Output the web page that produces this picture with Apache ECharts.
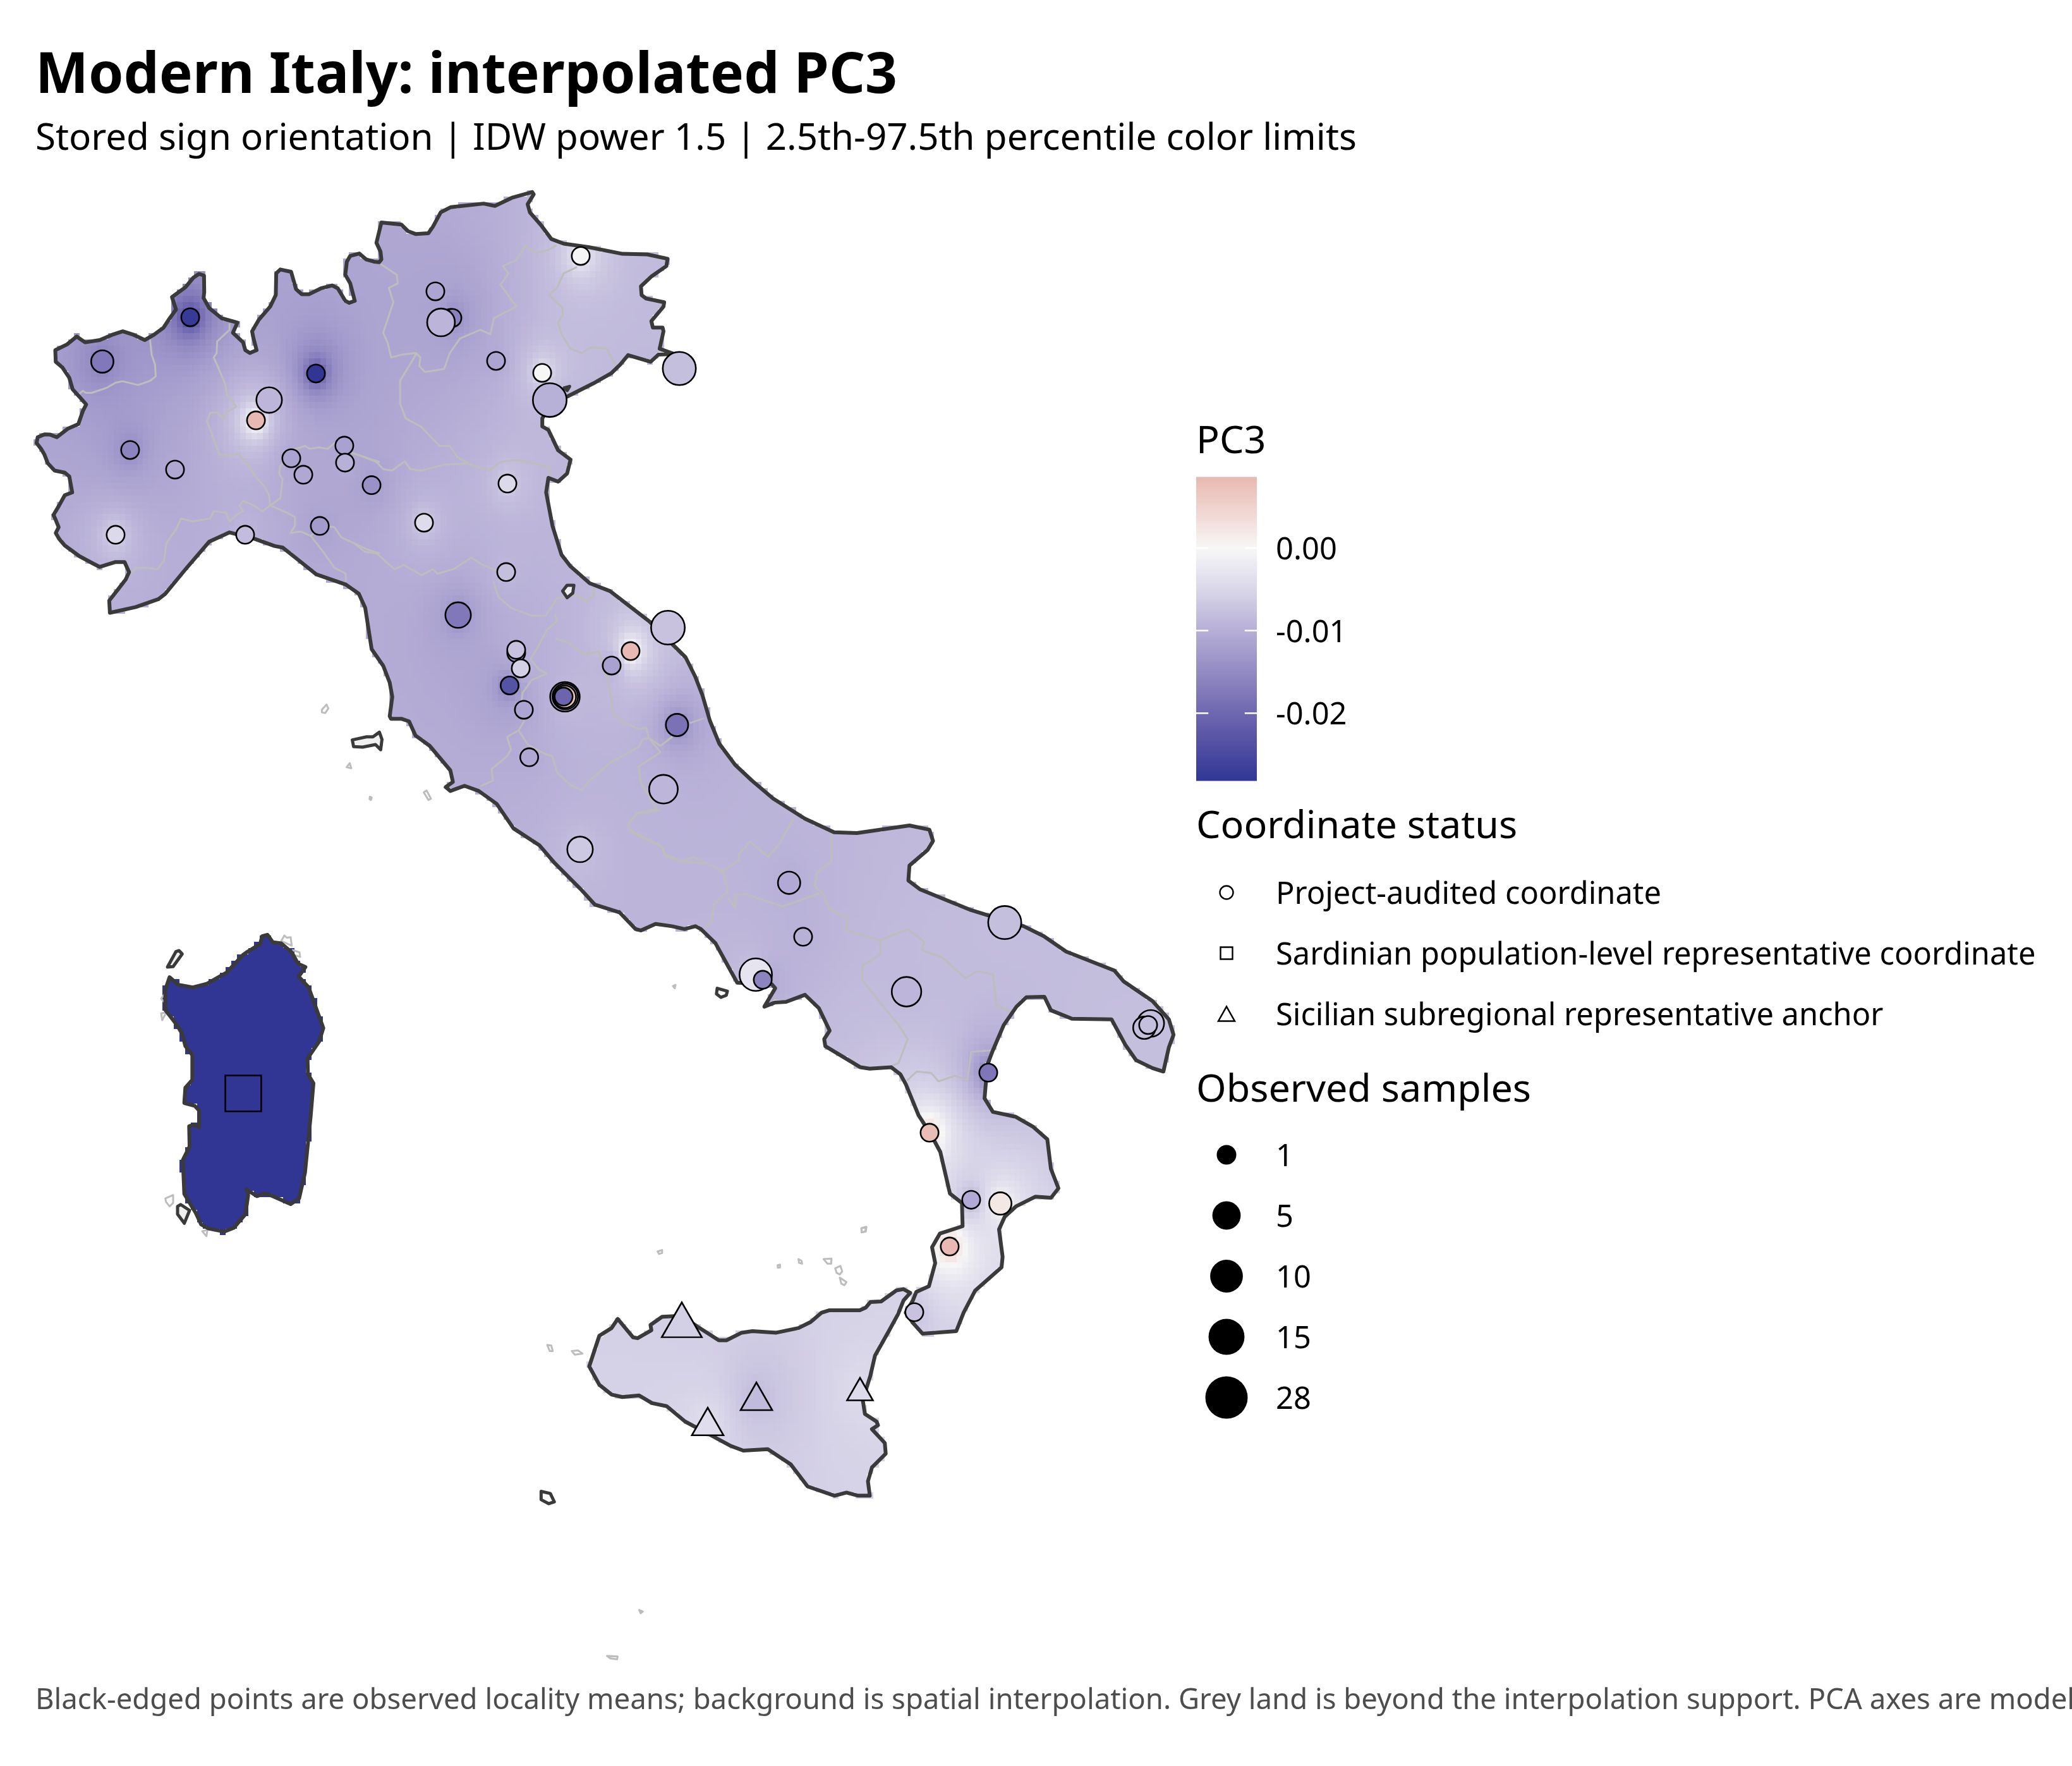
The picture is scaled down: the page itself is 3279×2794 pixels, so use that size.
<!DOCTYPE html>
<html><head><meta charset="utf-8">
<style>html,body{margin:0;padding:0;background:#fff}#c{width:3279px;height:2794px}</style>
<script src="https://cdn.jsdelivr.net/npm/echarts@6/dist/echarts.min.js"></script>
</head><body><div id="c"></div>
<script>
// ---------- observed locality means (lon, lat, PC3, samples) ----------
const auditedLon=[7.331,8.251,9.567,9.077,8.939,7.622,8.092,9.309,9.435,9.864,9.871,10.149,9.607,8.826,7.470,10.817,10.976,10.995,10.876,12.338,11.452,11.935,12.014,13.370,11.571,10.698,11.558,11.055,13.251,11.663,11.663,11.710,11.594,11.743,12.173,12.176,12.172,12.159,12.860,12.662,13.346,11.799,13.204,12.331,14.519,14.666,14.170,14.243,15.748,16.776,18.304,18.237,18.277,16.604,15.989,16.425,16.730,16.200,15.830];
const auditedLat=[45.726,46.081,45.630,45.417,45.254,45.016,44.859,44.950,44.818,45.051,44.915,44.734,44.407,44.336,44.336,46.289,46.076,46.076,46.040,46.573,45.731,45.635,45.417,45.670,44.747,44.433,44.037,43.692,43.591,43.388,43.413,43.264,43.127,42.932,43.036,43.038,43.036,43.038,43.403,43.287,42.810,42.551,42.295,41.812,41.544,41.111,40.807,40.766,40.670,41.225,40.416,40.381,40.403,40.021,39.539,39.001,38.971,38.626,38.099];
const auditedPC3=[-0.0176,-0.0274,-0.0281,-0.0090,0.0085,-0.0159,-0.0108,-0.0117,-0.0108,-0.0118,-0.0098,-0.0139,-0.0127,-0.0082,-0.0046,-0.0112,-0.0160,-0.0160,-0.0092,-0.0003,-0.0114,-0.0002,-0.0098,-0.0079,-0.0046,-0.0042,-0.0079,-0.0176,-0.0075,-0.0130,-0.0075,-0.0059,-0.0234,-0.0114,-0.0100,-0.0100,0.0070,-0.0204,0.0085,-0.0118,-0.0184,-0.0108,-0.0090,-0.0066,-0.0105,-0.0098,-0.0029,-0.0159,-0.0090,-0.0079,-0.0079,-0.0079,-0.0079,-0.0179,0.0080,-0.0105,0.0020,0.0085,-0.0075];
const auditedN=[2,1,1,4,1,1,1,1,1,1,1,1,1,1,1,1,1,1,6,1,1,1,14,13,1,1,1,4,14,1,1,1,1,1,8,4,2,1,1,1,2,1,7,4,2,1,12,1,8,13,5,2,1,1,1,1,2,1,1];
const sicilyLon=[13.396,14.177,13.667,15.261];
const sicilyLat=[38.038,37.424,37.222,37.482];
const sicilyPC3=[-0.0059,-0.0084,-0.0039,-0.0044];
const sicilyN=[7,2,2,1];
const sardiniaLon=[8.806];
const sardiniaLat=[39.854];
const sardiniaPC3=[-0.0281];
const sardiniaN=[28];

// ---------- colour scale ----------
const scaleMin=-0.02816, scaleMax=0.00857;
const stopValues=[-0.02816,-0.02,-0.01,-0.0046,0,0.0036,0.00857];
const stopColors=['#313695','#6f67af','#b6aed6','#dcd9ea','#f7f7f7','#f2dcd8','#e8b9b2'];
const colourTicks=[-0.02,-0.01,0];

// ---------- legends ----------
const statusLabels=['Project-audited coordinate','Sardinian population-level representative coordinate','Sicilian subregional representative anchor'];
const sampleBreaks=[1,5,10,15,28];

const frameA=[40,290,2.8,2.178], frameB=[560,290,2.8,2.178], frameC=[480,880,2.45,2.45], frameD=[980,1260,1.742,2.24], frameE=[200,1430,3,2.8], frameF=[820,1900,2.063,2.063], frameG=[1040,1040,3,3], frameH=[1400,1880,3,3];
const coastWestAlps=[375,1480,372,1438,410,1400,445,1365,460,1340,440,1305,400,1305,330,1322,300,1310,240,1285,175,1248,150,1225,135,1205,148,1185,135,1160,125,1143,150,1110,175,1075,208,1065,195,1010,175,997,130,990,100,965,85,935,70,915,50,895,55,875,85,865,110,866,140,875,190,845,235,830,255,785,270,762,245,740,210,710,195,670,165,635,135,615,133,575,185,555,228,528,265,548,330,540,385,522,432,510,480,522,530,540,570,522,612,498,640,465,668,435,650,392,710,358,745,325,770,312,792,318,793,375,790,395,815,430,870,465,940,480,920,515,965,548,975,575,995,585,1025,575,1010,530,1005,510,1035,470,1085,425,1110,385,1112,310,1130,297,1178,305,1200,365,1225,382,1258,382,1310,362,1360,352,1385,362,1418,405,1435,412,1460,405,1440,345,1418,315,1425,270,1440,250,1480,242,1510,262,1545,270];
const coastNorthEast=[112,272,122,262,118,235,100,205,122,135,210,142,240,165,275,175,330,172,350,150,385,100,430,82,575,70,625,78,700,50,790,30,797,38,770,72,780,100,830,145,875,192,930,208,1040,220,1190,243,1300,245,1390,260,1385,285,1320,320,1272,355,1275,385,1295,397,1375,410,1372,425,1318,475,1325,497,1368,497,1372,510,1355,570,1420,588,1350,590,1315,615,1215,592,1180,625,1140,655,1060,690,945,735,867,770,835,810,835,838,862,850,905,920,960,952,945,1000,905,1028,862,1015,852,1065,880,1180,920,1280,960,1320,1045,1378,1135,1405,1310,1510];
const coastMarche=[135,0,180,90,215,180,250,300,295,410,370,510,450,585,550,670,700,765,840,830];
const coastPuglia=[655,130,800,103,855,118,865,158,850,190,800,245,797,298,830,330,970,403,1063,440,1115,460,1170,495,1232,550,1365,617,1390,655,1470,725,1515,790,1528,845,1515,890,1500,975,1470,963,1425,935,1395,880,1357,790,1248,788,1190,758,1172,710,1122,712,1095,745,1060,810,1030,900,1015,950,1007,1070,1030,1118,1092,1135,1140,1170,1180,1215,1190,1320];
const coastToe=[825,0,790,45,715,40,625,85,570,135,543,195,560,325,555,375,430,485,375,590,340,678,180,690,135,640,100,590,135,530,150,492,210,465,240,355,225,280,262,215,370,180,367,70,310,25];
const coastTyrrhenian=[885,1260,860,1200,825,1130,790,1020,775,985,750,960,690,965,665,960,568,885,565,860,580,830,550,750,512,703,460,728,430,730,400,745,430,680,420,665,325,660,310,625,265,520,225,470,210,460,180,470,145,460,100,452,60,475,45,470,0,410];
const coastLazioTuscany=[1225,1380,1130,1350,1075,1290,975,1190,915,1120,815,1055,750,960,680,910,625,890,570,910,552,895,580,875,570,830,490,735,435,695,410,640,380,630,340,630,335,620,345,545,335,490,310,425,265,360,240,200,215,145,165,110,50,70,0,30];
const coastLiguria=[1140,1255,1105,1250,1015,1225,905,1203,815,1235,710,1330,620,1415,590,1433,490,1460];
const sicilyCoast=[325,385,375,445,390,448,435,422,432,405,470,378,534,375,585,410,655,455,680,455,730,430,765,425,843,430,915,415,955,395,990,365,1015,357,1115,357,1135,348,1150,330,1185,328,1235,292,1258,288,1280,300,1258,325,1240,370,1210,425,1165,505,1150,570,1125,650,1132,695,1170,720,1175,732,1155,745,1197,790,1200,825,1155,870,1142,915,1148,962,1110,962,1072,952,1033,962,945,932,890,860,815,810,735,815,695,800,630,765,545,720,485,670,437,660,395,635,340,640,305,632,265,600,232,540,265,440,305,415];
const sardiniaCoast=[205,325,245,358,315,370,380,355,475,305,555,225,575,212,635,178,645,143,670,137,695,170,735,175,785,215,815,265,850,280,818,322,865,370,935,550,915,610,860,685,862,755,888,795,875,940,848,1190,820,1305,780,1330,695,1295,660,1283,620,1295,570,1265,578,1290,565,1375,510,1435,465,1452,390,1438,355,1420,330,1370,275,1285,268,1135,300,1075,298,985,320,978,345,990,345,915,325,895,275,882,280,815,313,780,313,670,280,630,265,575,235,530,185,470,185,380];
// islands with a dark outline: [frame, fill, trace]
const darkIslands=[
 [frameE,'#eeeeee',[195,280,235,212,250,207,265,222,222,278]],
 [frameE,'#eeeeee',[243,1340,258,1332,300,1358,275,1415,243,1375]],
 [frameC,'#f0f0f0',[190,712,245,700,270,700,295,682,305,710,300,750,280,730,230,740,195,738]],
 [frameD,'#ffffff',[270,680,298,690,295,705,280,712,268,700]],
 [frameB,'#f0f0f0',[925,1405,945,1385,975,1385,970,1412,945,1428]],
 [frameB,'#3a3a3a',[932,705,956,700,945,714]],
 [frameF,'#ffffff',[75,948,105,955,118,982,100,988,75,975]]
];
const greyIslands=[
 [frameF,[95,470,108,472,113,490,103,490]],[frameF,[175,490,195,488,210,498,185,502]],[frameF,[455,165,470,160,470,170,460,173]],
 [frameF,[847,210,855,208,855,217,848,218]],[frameF,[915,190,925,195,927,205,917,202]],[frameF,[997,190,1023,188,1022,205,1010,205]],
 [frameF,[1035,220,1052,212,1058,230,1050,240,1040,235]],[frameF,[1050,250,1072,265,1065,275,1055,270]],[frameF,[1120,90,1137,85,1135,100,1122,102]],
 [frameF,[395,1335,407,1340,400,1346]],[frameF,[290,1485,325,1487,323,1496,300,1493]],
 [frameC,[72,595,90,575,97,590,85,608,72,605]],[frameC,[168,818,180,802,186,822]],[frameC,[258,932,265,935,262,945,257,942]],[frameC,[467,915,478,908,495,940,485,945]],
 [frameD,[148,672,155,668,153,680]],[frameD,[668,1530,680,1525,678,1542,668,1545]],
 [frameE,[735,165,750,140,762,150,780,148,785,185]],[frameE,[790,205,822,215,825,235,790,225]],[frameE,[185,1305,222,1290,222,1325,205,1340,188,1320]],
 [frameE,[165,420,185,395,185,440]],[frameE,[165,485,190,480,170,515]],[frameE,[360,1450,385,1445,380,1472]]
];
const regionLines=[
 [frameA,[553,540,560,590,575,625,578,665,555,680,500,695,430,682,400,687,360,705,295,722,268,722,255,715,240,725]],
 [frameA,[905,485,905,505,850,545,848,585,835,600,855,635,885,690,895,730,935,770,890,790,880,812,850,790,820,790,805,820,825,860,860,935,910,938,950,930,955,945,985,965,1020,1010,1060,1045,1080,1075,1085,1110,1050,1130,1000,1105,965,1095,950,1110,965,1130,940,1140,905,1165,890,1135,835,1130,820,1155,740,1165,690,1155,670,1190,625,1240,615,1300,585,1330,545,1325,490,1325,475,1338]],
 [frameA,[1085,1110,1130,1085,1140,1020,1125,1000,1130,975,1180,920,1240,905,1260,915,1300,910,1340,915,1370,895,1450,930,1510,945,1568,960]],
 [frameB,[0,930,50,945,100,960,130,985,170,990,225,958,250,985,300,990,400,970,500,965,600,990,650,960,720,953,800,965,860,975,870,1000]],
 [frameA,[1085,1110,1160,1135,1195,1150,1195,1180,1175,1205,1220,1200,1265,1215,1310,1180,1370,1185,1400,1220,1470,1245,1510,1260,1568,1275]],
 [frameB,[0,1240,50,1270,100,1275,180,1330,220,1315,300,1350,350,1330,370,1345,440,1330,520,1290,570,1315,635,1335]],
 [frameB,[620,1375,640,1425,700,1465,790,1490,850,1490,900,1430,985,1420,1030,1440,1065,1420,1065,1395]],
 [frameA,[1265,1215,1320,1270,1370,1325,1420,1345,1420,1370]],
 [frameC,[975,225,985,250,945,285,905,360,880,400,915,440,945,455,885,480,850,530,845,570,856,640,835,675,790,700,805,750,790,775,730,825,735,870,690,890]],
 [frameC,[835,675,870,730,935,765,965,775,985,840,1040,890,1080,905,1110,870,1190,800,1300,740,1315,710,1340,705]],
 [frameC,[980,320,1030,335,1085,380,1145,370,1170,440,1190,530,1200,610,1235,640,1300,670,1330,665,1340,705,1385,735,1430,700]],
 [frameG,[220,290,160,310]],
 [frameC,[1340,705,1385,760,1300,815,1310,880,1370,980,1295,995,1260,1040,1265,1060,1390,1125,1400,1160,1470,1185,1568,1190]],
 [frameD,[480,80,440,170,410,215,360,160,330,205,330,225,285,265]],
 [frameD,[110,50,50,60,25,95,30,125,120,180,125,205,175,230,205,215,285,265,300,335,260,385,255,440,240,465]],
 [frameD,[585,135,585,230,545,270,540,320,560,340]],
 [frameD,[300,360,320,395,320,350,345,345,450,390,505,365,560,340,580,400,630,430,625,475,720,510,720,560,670,600,670,650,700,700,770,810,795,860,770,945,750,955]],
 [frameD,[720,510,795,470,840,515,835,545,890,570,955,645,985,620,1030,630,1040,740,1080,765]],
 [frameD,[1025,900,970,905,960,1005,925,990,880,1010,860,980,820,975,795,1005]],
 [frameB,[122,280,190,315,195,345,155,360,175,410,130,515,150,550,165,600,215,590,275,585,295,600,290,630,315,650,400,640,425,585,470,535,560,505,605,520,620,465,720,425,650,350,685,310,660,285,720,265,760,215,805,240,860,230,895,215]],
 [frameB,[275,590,205,680,205,760,230,810,300,840,380,905,425,905,460,945,510,965]],
 [frameB,[985,290,930,310,900,360,865,385,925,430,925,455,905,480,920,520,960,570,1010,585,1050,565,1120,570,1160,625]]
];

// ---------- helpers ----------
const lonOrigin=6.26, lonScale=151.2, latOrigin=48.6265, latScale=197.2;
const W=3279,H=2794;
function digitise(f,t){const o=[];for(let i=0;i<t.length;i+=2){const X=f[0]+t[i]/f[2],Y=f[1]+t[i+1]/f[3];o.push([lonOrigin+X/lonScale,latOrigin-Y/latScale]);}return o;}
const mainland=[].concat(digitise(frameA,coastWestAlps),digitise(frameB,coastNorthEast),digitise(frameG,coastMarche),digitise(frameD,coastPuglia),digitise(frameH,coastToe),digitise(frameD,coastTyrrhenian),digitise(frameC,coastLazioTuscany),digitise(frameA,coastLiguria));
const sicily=digitise(frameF,sicilyCoast), sardinia=digitise(frameE,sardiniaCoast);
function hex(c){return [1,3,5].map(i=>parseInt(c.substr(i,2),16));}
function colourAt(v){v=Math.max(scaleMin,Math.min(scaleMax,v));let i=0;while(i<stopValues.length-2&&v>stopValues[i+1])i++;const t=(v-stopValues[i])/(stopValues[i+1]-stopValues[i]);const a=hex(stopColors[i]),b=hex(stopColors[i+1]);return 'rgb('+a.map((x,k)=>Math.round(x+(b[k]-x)*t)).join(',')+')';}
function diameter(n){return 31+36*Math.sqrt((n-1)/27);}
function inside(p,x,y){let c=false;for(let i=0,j=p.length-1;i<p.length;j=i++){if((p[i][1]>y)!==(p[j][1]>y)&&x<(p[j][0]-p[i][0])*(y-p[i][1])/(p[j][1]-p[i][1])+p[i][0])c=!c;}return c;}
function zip(a,b,c,d){return a.map((x,i)=>[x,b[i],c[i],d[i]]);}
const auditedPts=zip(auditedLon,auditedLat,auditedPC3,auditedN), sicilyPts=zip(sicilyLon,sicilyLat,sicilyPC3,sicilyN), sardiniaPts=zip(sardiniaLon,sardiniaLat,sardiniaPC3,sardiniaN);
// the IDW surface, each landmass from its own observed localities
const cellLon=0.06, cellLat=0.05, idwPower=1.3, reach=0.12;
function idw(pts,x,y){let s=0,w=0;for(const p of pts){const d=Math.hypot(x-p[0],y-p[1])+1e-4;const k=Math.pow(d,-idwPower);s+=k*p[2];w+=k;}return s/w;}
const surface=[];
[[mainland,auditedPts],[sicily,sicilyPts],[sardinia,sardiniaPts]].forEach(([poly,pts])=>{
 const xs=poly.map(p=>p[0]),ys=poly.map(p=>p[1]);
 const rx=cellLon*reach, ry=cellLat*reach;
 for(let x=Math.min(...xs)-cellLon;x<Math.max(...xs)+cellLon;x+=cellLon)for(let y=Math.min(...ys)-cellLat;y<Math.max(...ys)+cellLat;y+=cellLat){
  if(inside(poly,x,y)||inside(poly,x-rx,y-ry)||inside(poly,x+rx,y-ry)||inside(poly,x-rx,y+ry)||inside(poly,x+rx,y+ry))surface.push([x,y,idw(pts,x,y)]);}
});
const xMin=lonOrigin,xMax=lonOrigin+W/lonScale,yMax=latOrigin,yMin=latOrigin-H/latScale;
const coastW=6;
const polygons=[{p:mainland,fill:'none',stroke:'#3a3a3a',w:coastW},{p:sicily,fill:'none',stroke:'#3a3a3a',w:coastW},{p:sardinia,fill:'none',stroke:'#3a3a3a',w:coastW}];
darkIslands.forEach(d=>polygons.push({p:digitise(d[0],d[2]),fill:d[1],stroke:'#3a3a3a',w:coastW-1}));
greyIslands.forEach(d=>polygons.unshift({p:digitise(d[0],d[1]),fill:'none',stroke:'#bdbdbd',w:3}));
const borders=regionLines.map(r=>digitise(r[0],r[1]));

const font='"Noto Sans"';
function pointSeries(name,data,sym,size){return {name,type:'scatter',xAxisIndex:0,yAxisIndex:0,data,symbol:sym,symbolSize:size,z:6,clip:false,animation:false,silent:true,itemStyle:{opacity:1,borderColor:'#000',borderWidth:2.6,color:p=>colourAt(p.value[2])}};}
const barSlices=[];for(let i=0;i<160;i++){barSlices.push([scaleMin+(scaleMax-scaleMin)*i/160,scaleMin+(scaleMax-scaleMin)*(i+1)/160]);}
const tickMarks=[];colourTicks.forEach(v=>{tickMarks.push([0,0.2,v]);tickMarks.push([0.8,1,v]);});
function ttl(text,left,top,size,weight,color){return {text,left,top,padding:0,textStyle:{fontFamily:font,fontSize:size,fontWeight:weight||'normal',color:color||'#000'}};}
const keyLabel={margin:30,verticalAlign:'top',lineHeight:8,fontFamily:font,fontSize:48.8,color:'#000'};
const chart=echarts.init(document.getElementById('c'),null,{renderer:'canvas',width:W,height:H});
chart.setOption({
 animation:false,backgroundColor:'#fff',
 title:[
  ttl('Modern Italy: interpolated PC3',56,77,89,'bold'),
  ttl('Stored sign orientation | IDW power 1.5 | 2.5th-97.5th percentile color limits',56,191,58.3),
  ttl('PC3',1893,669,61),ttl('Coordinate status',1893,1278,61),ttl('Observed samples',1893,1695,61),
  ttl('Black-edged points are observed locality means; background is spatial interpolation. Grey land is beyond the interpolation support. PCA axes are model',56,2668,45.5,'normal','#4d4d4d')
 ],
 grid:[
  {left:0,top:0,width:W,height:H},
  {left:1893,top:755,width:96,height:480},
  {left:1893,top:1364,width:96,height:288},
  {left:1893,top:1779,width:96,height:480}
 ],
 xAxis:[
  {type:'value',gridIndex:0,min:xMin,max:xMax,show:false},
  {type:'value',gridIndex:1,min:0,max:1,show:false},
  {type:'value',gridIndex:2,min:0,max:1,show:false},
  {type:'value',gridIndex:3,min:0,max:1,show:false}
 ],
 yAxis:[
  {type:'value',gridIndex:0,min:yMin,max:yMax,show:false},
  {type:'value',gridIndex:1,min:scaleMin,max:scaleMax,position:'right',splitLine:{show:false},axisLine:{show:false},axisTick:{show:false},
   axisLabel:Object.assign({},keyLabel,{customValues:colourTicks,formatter:v=>v.toFixed(2)})},
  {type:'category',gridIndex:2,inverse:true,data:statusLabels,position:'right',axisLine:{show:false},axisTick:{show:false},splitLine:{show:false},
   axisLabel:Object.assign({},keyLabel,{interval:0})},
  {type:'category',gridIndex:3,inverse:true,data:sampleBreaks.map(String),position:'right',axisLine:{show:false},axisTick:{show:false},splitLine:{show:false},
   axisLabel:Object.assign({},keyLabel,{interval:0})}
 ],
 series:[
  {type:'custom',name:'surface',xAxisIndex:0,yAxisIndex:0,data:surface,z:1,silent:true,clip:false,progressive:0,animation:false,
   encode:{x:0,y:1},
   renderItem:(params,api)=>{const c=api.coord([api.value(0),api.value(1)]);const s=api.size([cellLon,cellLat]);
    const x0=Math.round(c[0]-s[0]/2),x1=Math.round(c[0]+s[0]/2),y0=Math.round(c[1]-s[1]/2),y1=Math.round(c[1]+s[1]/2);
    return {type:'rect',shape:{x:x0,y:y0,width:x1-x0,height:y1-y0},style:{fill:colourAt(api.value(2))}};}},
  {type:'custom',name:'regions',xAxisIndex:0,yAxisIndex:0,data:borders.map((b,i)=>[i]),z:2,silent:true,clip:false,progressive:0,animation:false,
   renderItem:(params,api)=>({type:'polyline',shape:{points:borders[api.value(0)].map(q=>api.coord(q))},style:{fill:null,stroke:'#bdbdbd',lineWidth:3,lineJoin:'round',lineCap:'round'}})},
  {type:'custom',name:'coast',xAxisIndex:0,yAxisIndex:0,data:polygons.map((b,i)=>[i]),z:3,silent:true,clip:false,progressive:0,animation:false,
   renderItem:(params,api)=>{const g=polygons[api.value(0)];return {type:'polygon',shape:{points:g.p.map(q=>api.coord(q))},style:{fill:g.fill==='none'?null:g.fill,stroke:g.stroke,lineWidth:g.w,lineJoin:'round'}};}},
  pointSeries(statusLabels[0],auditedPts,'circle',v=>diameter(v[3])-2.6),
  pointSeries(statusLabels[1],sardiniaPts,'rect',v=>diameter(v[3])*0.886-2.6),
  pointSeries(statusLabels[2],sicilyPts,'triangle',v=>[diameter(v[3])*1.32,diameter(v[3])*1.15]),
  {type:'custom',name:'colourbar',xAxisIndex:1,yAxisIndex:1,data:barSlices,z:1,silent:true,progressive:0,animation:false,encode:{y:[0,1]},
   renderItem:(params,api)=>{const a=api.coord([0,api.value(0)]),b=api.coord([1,api.value(1)]);return {type:'rect',shape:{x:a[0],y:b[1]-0.5,width:b[0]-a[0],height:a[1]-b[1]+1},style:{fill:colourAt((api.value(0)+api.value(1))/2)}};}},
  {type:'custom',name:'colourbar ticks',xAxisIndex:1,yAxisIndex:1,data:tickMarks,z:4,silent:true,progressive:0,animation:false,encode:{y:2},
   renderItem:(params,api)=>{const a=api.coord([api.value(0),api.value(2)]),b=api.coord([api.value(1),api.value(2)]);return {type:'line',shape:{x1:a[0],y1:a[1],x2:b[0],y2:b[1]},style:{stroke:'#fff',lineWidth:2.5}};}},
  {type:'scatter',name:'status key',xAxisIndex:2,yAxisIndex:2,silent:true,animation:false,
   data:[{value:[0.5,statusLabels[0]],symbol:'circle',symbolSize:21},{value:[0.5,statusLabels[1]],symbol:'rect',symbolSize:19},{value:[0.5,statusLabels[2]],symbol:'triangle',symbolSize:[26,23]}],
   itemStyle:{color:'#fff',opacity:1,borderColor:'#000',borderWidth:2.4}},
  {type:'scatter',name:'size key',xAxisIndex:3,yAxisIndex:3,silent:true,animation:false,
   data:sampleBreaks.map(n=>({value:[0.5,String(n)],symbolSize:diameter(n)})),symbol:'circle',itemStyle:{color:'#000',opacity:1}}
 ]
});
</script></body></html>
